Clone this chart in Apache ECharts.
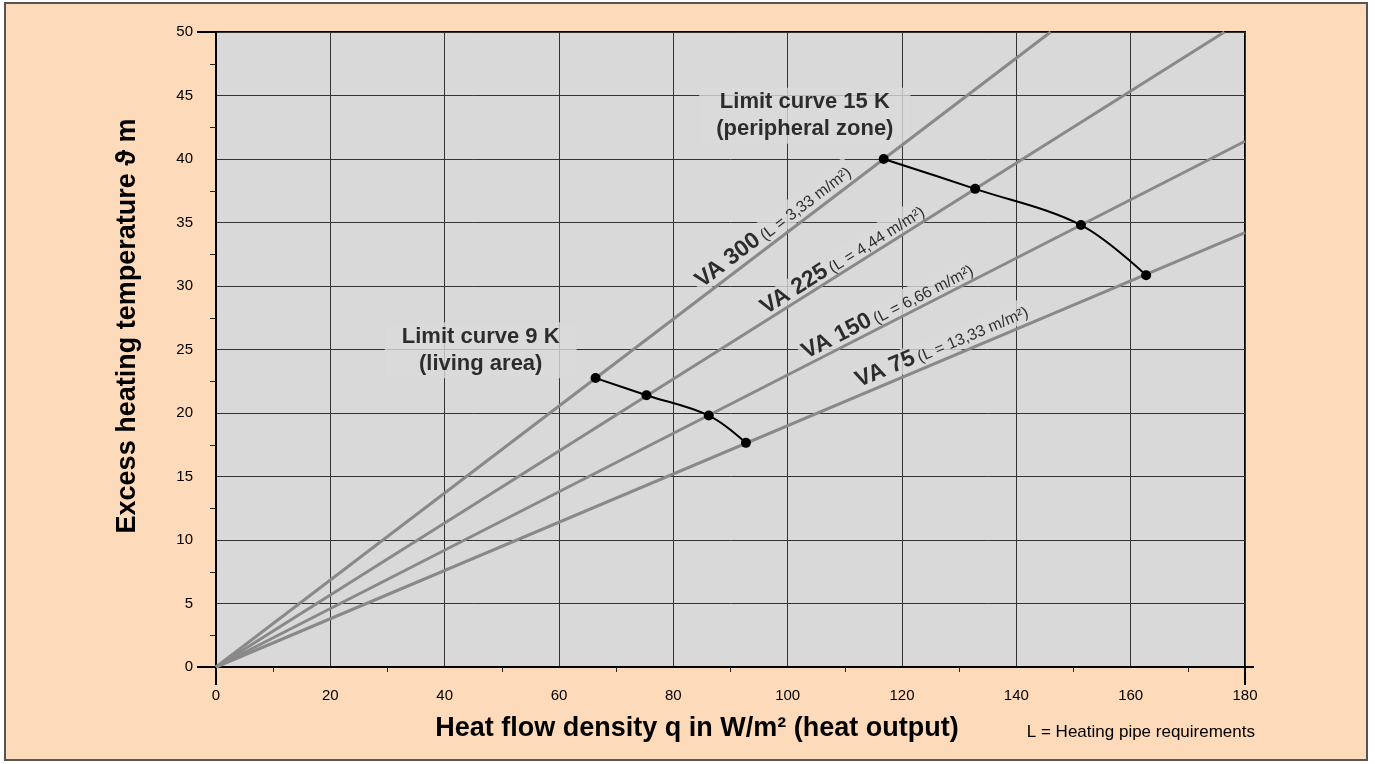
<!DOCTYPE html>
<html>
<head>
<meta charset="utf-8">
<script src="https://cdn.jsdelivr.net/npm/echarts@6/dist/echarts.min.js"></script>
<style>
  html, body { margin: 0; padding: 0; background: #ffffff; }
  #chart { width: 1375px; height: 764px; }
</style>
</head>
<body>
<div id="chart"></div>
<script>
// Pipe spacing lines (VA) and their pipe requirement L in m/m²
const pipeSpacings = ['VA 300', 'VA 225', 'VA 150', 'VA 75'];
const pipeLengths = ['3,33', '4,44', '6,66', '13,33'];
// Each spacing line starts at the origin and ends at the plot edge [q, ϑm]
const pipeLineEnds = [[146.0, 50], [176.4, 50], [180, 41.4], [180, 34.2]];
// Where the spacing-line captions sit [q, ϑm]
const pipeLabelAt = [[97.4, 34.75], [109.5, 32.15], [117.4, 28.1], [126.9, 25.35]];

// Limit curves: points on VA 300, VA 225, VA 150, VA 75
const limit9K = [[66.4, 22.75], [75.3, 21.4], [86.2, 19.8], [92.7, 17.65]];
const limit15K = [[116.8, 40.0], [132.8, 37.65], [151.3, 34.8], [162.7, 30.85]];
const limitLabels = ['Limit curve 9 K\n(living area)', 'Limit curve 15 K\n(peripheral zone)'];
const limitLabelAt = [[46.3, 24.95], [103.0, 43.4]];

// Axis ranges
const xRange = [0, 180, 20];
const yRange = [0, 50, 5];

const FONT = '"Liberation Sans", Arial, Helvetica, sans-serif';
const INK = '#000000';
const PLOT_BG = '#d9d9d9';

const chart = echarts.init(document.getElementById('chart'), null, { renderer: 'canvas' });

// Main axes: labels, grid lines and short minor ticks
function mainAxis(range, minorLen, labelMargin) {
  return {
    type: 'value',
    min: range[0], max: range[1], interval: range[2],
    axisLine: { show: true, onZero: false, lineStyle: { color: INK, width: 2 } },
    axisTick: { show: false },
    axisLabel: { color: INK, fontSize: 15, fontFamily: FONT, margin: labelMargin },
    splitLine: { show: true, lineStyle: { color: '#333333', width: 1 } },
    minorTick: { show: true, splitNumber: 2, length: minorLen, lineStyle: { color: '#222', width: 1 } },
    minorSplitLine: { show: false }
  };
}

// Companion axes that only carry the long end ticks
function endTickAxis(range, len, pos) {
  return {
    type: 'value', position: pos,
    min: range[0], max: range[1], interval: range[2],
    axisLine: { show: false, onZero: false },
    axisLabel: { show: false },
    splitLine: { show: false },
    axisTick: { show: true, customValues: [range[0], range[1]], length: len, lineStyle: { color: INK, width: 2 } }
  };
}

function pipeLineSeries() {
  return pipeLineEnds.map((end, i) => ({
    name: pipeSpacings[i],
    type: 'line',
    data: [[0, 0], end],
    symbol: 'none',
    silent: true,
    z: 4,
    lineStyle: { color: '#898989', width: 3 }
  }));
}

function limitSeries(name, pts) {
  return {
    name: name,
    type: 'line',
    data: pts,
    smooth: 0.35,
    symbol: 'circle',
    symbolSize: 10,
    silent: true,
    z: 6,
    itemStyle: { color: '#000' },
    lineStyle: { color: '#000', width: 2 }
  };
}

function pipeLabelSeries(angles) {
  return {
    name: 'pipe captions',
    type: 'scatter',
    silent: true,
    z: 2,
    symbolSize: 1,
    itemStyle: { color: 'rgba(0,0,0,0)' },
    data: pipeLabelAt.map((p, i) => ({
      value: p,
      label: {
        show: true,
        position: 'inside',
        rotate: angles[i],
        formatter: '{b|' + pipeSpacings[i] + '} {s|(L = ' + pipeLengths[i] + ' m/m²)}',
        backgroundColor: PLOT_BG,
        padding: [0, 3],
        fontFamily: FONT,
        fontSize: 13,
        rich: {
          b: { fontFamily: FONT, fontSize: 23, fontWeight: 'bold', color: INK, lineHeight: 24, verticalAlign: 'bottom' },
          s: { fontFamily: FONT, fontSize: 16, color: INK, lineHeight: 24, verticalAlign: 'bottom', padding: [0, 0, 1, 0] }
        }
      }
    }))
  };
}

const limitLabelSeries = {
  name: 'limit captions',
  type: 'scatter',
  silent: true,
  z: 3,
  symbolSize: 1,
  itemStyle: { color: 'rgba(0,0,0,0)' },
  data: limitLabelAt.map((p, i) => ({
    value: p,
    label: {
      show: true,
      position: 'inside',
      formatter: limitLabels[i],
      align: 'center',
      verticalAlign: 'middle',
      fontFamily: FONT,
      fontSize: 22,
      fontWeight: 'bold',
      lineHeight: 27,
      color: INK,
      backgroundColor: PLOT_BG,
      padding: [1, 17]
    }
  }))
};

function buildOption(angles) {
  return {
    backgroundColor: '#ffffff',
    animation: false,
    grid: {
      left: 216, right: 130, top: 32, bottom: 97,
      show: true, backgroundColor: PLOT_BG, borderColor: INK, borderWidth: 2,
      containLabel: false
    },
    xAxis: [mainAxis(xRange, 5, 21), endTickAxis(xRange, 18, 'bottom')],
    yAxis: [mainAxis(yRange, 6, 23), endTickAxis(yRange, 19, 'left')],
    graphic: [
      {
        type: 'rect', z: -100, silent: true,
        shape: { x: 5, y: 3, width: 1362, height: 757 },
        style: { fill: '#fddab9', stroke: '#555555', lineWidth: 2 }
      },
      {
        type: 'text', silent: true, x: 697, y: 729,
        style: {
          text: 'Heat flow density q in W/m² (heat output)',
          font: 'bold 27px ' + FONT, fill: INK,
          textAlign: 'center', textVerticalAlign: 'middle'
        }
      },
      {
        type: 'text', silent: true, x: 128, y: 326, rotation: Math.PI / 2,
        style: {
          text: 'Excess heating temperature ϑ m',
          font: 'bold 27px ' + FONT, fill: INK,
          textAlign: 'center', textVerticalAlign: 'middle'
        }
      },
      {
        type: 'text', silent: true, x: 1255, y: 732,
        style: {
          text: 'L = Heating pipe requirements',
          font: '17px ' + FONT, fill: INK,
          textAlign: 'right', textVerticalAlign: 'middle'
        }
      }
    ],
    series: [
      pipeLabelSeries(angles),
      limitLabelSeries
    ].concat(pipeLineSeries(), [
      limitSeries('Limit curve 9 K', limit9K),
      limitSeries('Limit curve 15 K', limit15K)
    ])
  };
}

// First pass to get the scales, then orient each caption along its line
chart.setOption(buildOption(pipeLineEnds.map(() => 0)));
const toPx = v => chart.convertToPixel({ xAxisIndex: 0, yAxisIndex: 0 }, v);
const angles = pipeLineEnds.map(end => {
  const a = toPx([0, 0]);
  const b = toPx(end);
  return Math.atan2(a[1] - b[1], b[0] - a[0]) * 180 / Math.PI;
});
const opt = buildOption(angles);
// short extension of the q axis past its last tick
const axEnd = toPx([xRange[1], 0]);
opt.graphic.push({
  type: 'line', silent: true,
  shape: { x1: axEnd[0], y1: axEnd[1], x2: axEnd[0] + 9, y2: axEnd[1] },
  style: { stroke: INK, lineWidth: 2 }
});
chart.setOption(opt, true);
</script>
</body>
</html>
